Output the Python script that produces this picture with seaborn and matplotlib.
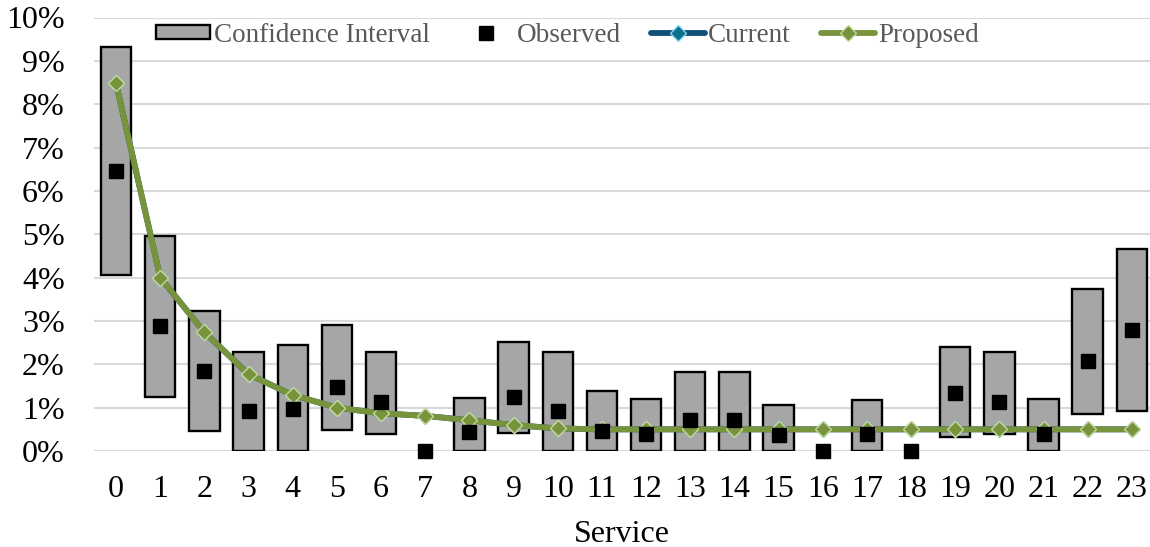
import numpy as np
import pandas as pd
import matplotlib
matplotlib.use("Agg")
import matplotlib.pyplot as plt
from matplotlib.patches import Patch
from matplotlib.lines import Line2D
from matplotlib.ticker import FuncFormatter
import seaborn as sns

# Service index and rates (percent)
services = list(range(24))
ci_low = [4.06, 1.25, 0.46, 0.0, 0.0, 0.48, 0.40, np.nan, 0.0, 0.42, 0.0, 0.0,
          0.0, 0.0, 0.0, 0.0, np.nan, 0.0, np.nan, 0.33, 0.39, 0.0, 0.85, 0.93]
ci_high = [9.32, 4.96, 3.23, 2.29, 2.45, 2.91, 2.29, np.nan, 1.23, 2.51, 2.29, 1.38,
           1.20, 1.82, 1.82, 1.05, np.nan, 1.17, np.nan, 2.39, 2.29, 1.19, 3.74, 4.66]
observed = [6.46, 2.88, 1.85, 0.93, 0.98, 1.47, 1.14, 0.0, 0.43, 1.25, 0.93, 0.45,
            0.39, 0.72, 0.72, 0.37, 0.0, 0.40, 0.0, 1.34, 1.14, 0.40, 2.08, 2.79]
current = [8.48, 4.00, 2.74, 1.77, 1.29, 1.00, 0.87, 0.81, 0.71, 0.60, 0.52, 0.50,
           0.50, 0.50, 0.50, 0.50, 0.50, 0.50, 0.50, 0.50, 0.50, 0.50, 0.50, 0.50]
proposed = [8.48, 4.00, 2.74, 1.77, 1.29, 1.00, 0.87, 0.81, 0.71, 0.60, 0.52, 0.50,
            0.50, 0.50, 0.50, 0.50, 0.50, 0.50, 0.50, 0.50, 0.50, 0.50, 0.50, 0.50]
y_ticks = list(range(0, 11))

df = pd.DataFrame({
    "Service": services,
    "low": ci_low,
    "high": ci_high,
    "Observed": observed,
    "Current": current,
    "Proposed": proposed,
})

sns.set_theme(style="white")
plt.rcParams["font.family"] = ["Liberation Serif", "DejaVu Serif"]

FS_TICK = 23
FS_LEG = 19.5
BAR_FILL = "#A6A6A6"
GREEN = "#77933C"
GREEN_EDGE = "#C3D69B"
BLUE = "#114E78"
BLUE_MARK = "#0B7090"
BLUE_EDGE = "#7FD8EE"
GRID = "#D9D9D9"
LW = 4.2
MS_D = 8.5

fig = plt.figure(figsize=(11.5, 5.47), dpi=100)
ax = fig.add_axes([94 / 1150, 1 - 451 / 547, (1150 - 94) / 1150, (451 - 17.5) / 547])

# Confidence interval as floating bars
ax.bar(df["Service"], df["high"] - df["low"], bottom=df["low"], width=0.69,
       color=BAR_FILL, edgecolor="black", linewidth=1.7, zorder=2)

# Current and proposed rates
sns.lineplot(data=df, x="Service", y="Current", ax=ax, color=BLUE, linewidth=LW,
             marker="D", markersize=MS_D, markerfacecolor=BLUE_MARK,
             markeredgecolor=BLUE_EDGE, markeredgewidth=1, zorder=3)
sns.lineplot(data=df, x="Service", y="Proposed", ax=ax, color=GREEN, linewidth=LW,
             marker="D", markersize=MS_D, markerfacecolor=GREEN,
             markeredgecolor=GREEN_EDGE, markeredgewidth=1, zorder=4)

# Observed rates
ax.plot(df["Service"], df["Observed"], linestyle="none", marker="s", markersize=10,
        color="black", zorder=5, clip_on=False)

ax.set_xlim(-0.5, 23.41)
ax.set_ylim(0, 10)
ax.set_yticks(y_ticks)
ax.yaxis.set_major_formatter(FuncFormatter(lambda v, p: f"{v:.0f}%"))
ax.set_xticks(services)
ax.set_xticklabels([str(s) for s in services])
ax.tick_params(axis="both", length=0, labelsize=FS_TICK, colors="black")
ax.tick_params(axis="y", pad=21)
ax.tick_params(axis="x", pad=17.5)
ax.grid(axis="y", color=GRID, linewidth=1.5, zorder=0)
ax.set_axisbelow(True)
for s in ax.spines.values():
    s.set_visible(False)
ax.set_ylabel("")
ax.set_xlabel("Service", fontsize=FS_TICK, color="black", labelpad=11)

handles = [
    Patch(facecolor=BAR_FILL, edgecolor="black", linewidth=1.7),
    Line2D([], [], linestyle="none", marker="s", markersize=10, color="black"),
    Line2D([], [], color=BLUE, linewidth=LW, marker="D", markersize=MS_D,
           markerfacecolor=BLUE_MARK, markeredgecolor=BLUE_EDGE, markeredgewidth=1),
    Line2D([], [], color=GREEN, linewidth=LW, marker="D", markersize=MS_D,
           markerfacecolor=GREEN, markeredgecolor=GREEN_EDGE, markeredgewidth=1),
]
labels = ["Confidence Interval", "Observed", "Current", "Proposed"]
fig.legend(handles, labels, loc="center", bbox_to_anchor=(567.5 / 1150, 1 - 35 / 547),
           ncol=4, frameon=False, fontsize=FS_LEG, labelcolor="#595959",
           handlelength=2.0, handleheight=0.45, handletextpad=0.12,
           columnspacing=1.1, borderpad=0, borderaxespad=0)

fig.savefig("out.png", dpi=100)
